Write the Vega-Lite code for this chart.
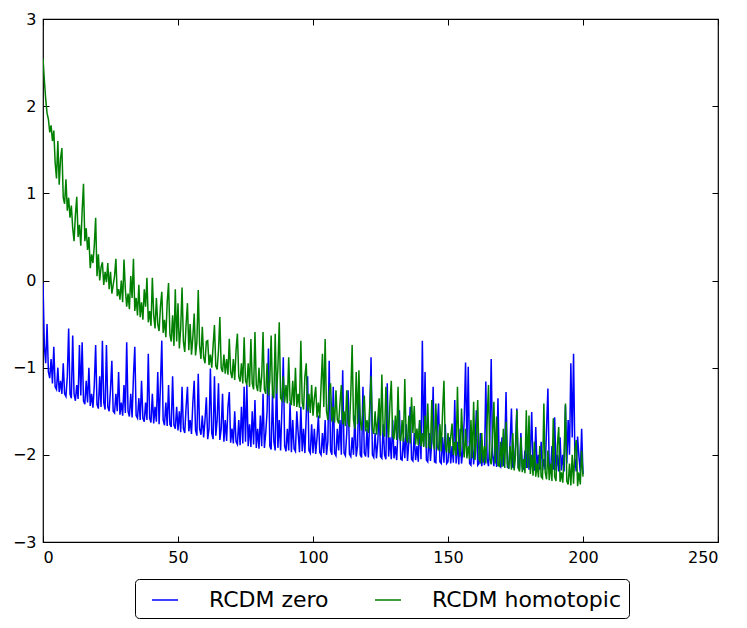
{
  "$schema": "https://vega.github.io/schema/vega-lite/v6.json",
  "width": 675,
  "height": 523,
  "autosize": "none",
  "padding": {"left": 43, "top": 19, "right": 29, "bottom": 86},
  "data": {
    "values": [
      {"x":0,"zero":-0.03,"homotopic":2.55},{"x":0.5,"zero":-0.75,"homotopic":2.3},{"x":1,"zero":-0.95,"homotopic":2.08},{"x":1.5,"zero":-0.5,"homotopic":1.92},
      {"x":2,"zero":-1.05,"homotopic":1.85},{"x":2.5,"zero":-1.12,"homotopic":1.7},{"x":3,"zero":-0.9,"homotopic":1.78},{"x":3.5,"zero":-1.18,"homotopic":1.6},
      {"x":4,"zero":-0.76,"homotopic":1.72},{"x":4.5,"zero":-1.22,"homotopic":1.35},{"x":5,"zero":-1.25,"homotopic":1.17},{"x":5.5,"zero":-1.0,"homotopic":1.6},
      {"x":6,"zero":-1.28,"homotopic":1.1},{"x":6.5,"zero":-1.15,"homotopic":1.4},{"x":7,"zero":-1.3,"homotopic":1.52},{"x":7.5,"zero":-0.95,"homotopic":0.95},
      {"x":8,"zero":-1.3,"homotopic":0.88},{"x":8.5,"zero":-1.33,"homotopic":1.16},{"x":9,"zero":-1.1,"homotopic":0.8},{"x":9.5,"zero":-0.55,"homotopic":0.95},
      {"x":10,"zero":-1.3,"homotopic":0.72},{"x":10.5,"zero":-1.35,"homotopic":0.86},{"x":11,"zero":-0.63,"homotopic":0.6},{"x":11.5,"zero":-1.3,"homotopic":0.45},
      {"x":12,"zero":-1.38,"homotopic":0.75},{"x":12.5,"zero":-1.2,"homotopic":0.96},{"x":13,"zero":-1.36,"homotopic":0.5},{"x":13.5,"zero":-0.74,"homotopic":0.64},
      {"x":14,"zero":-1.32,"homotopic":0.4},{"x":14.5,"zero":-0.71,"homotopic":0.8},{"x":15,"zero":-1.38,"homotopic":1.11},{"x":15.5,"zero":-1.42,"homotopic":0.45},
      {"x":16,"zero":-1.15,"homotopic":0.6},{"x":16.5,"zero":-1.4,"homotopic":0.35},{"x":17,"zero":-1.0,"homotopic":0.5},{"x":17.5,"zero":-1.44,"homotopic":0.14},
      {"x":18,"zero":-1.3,"homotopic":0.3},{"x":18.5,"zero":-1.46,"homotopic":0.2},{"x":19,"zero":-1.2,"homotopic":0.4},{"x":19.5,"zero":-0.74,"homotopic":0.72},
      {"x":20,"zero":-1.42,"homotopic":0.05},{"x":20.5,"zero":-1.47,"homotopic":0.3},{"x":21,"zero":-1.1,"homotopic":0.0},{"x":21.5,"zero":-1.45,"homotopic":0.15},
      {"x":22,"zero":-0.69,"homotopic":0.21},{"x":22.5,"zero":-1.4,"homotopic":-0.05},{"x":23,"zero":-1.48,"homotopic":0.1},{"x":23.5,"zero":-0.74,"homotopic":-0.02},
      {"x":24,"zero":-1.45,"homotopic":0.2},{"x":24.5,"zero":-1.5,"homotopic":-0.1},{"x":25,"zero":-1.25,"homotopic":0.1},{"x":25.5,"zero":-0.92,"homotopic":-0.15},
      {"x":26,"zero":-1.5,"homotopic":-0.05},{"x":26.5,"zero":-1.52,"homotopic":0.05},{"x":27,"zero":-1.3,"homotopic":0.25},{"x":27.5,"zero":-1.5,"homotopic":-0.18},
      {"x":28,"zero":-1.05,"homotopic":-0.1},{"x":28.5,"zero":-1.54,"homotopic":-0.22},{"x":29,"zero":-1.4,"homotopic":0.0},{"x":29.5,"zero":-1.55,"homotopic":-0.25},
      {"x":30,"zero":-1.2,"homotopic":0.24},{"x":30.5,"zero":-1.52,"homotopic":-0.1},{"x":31,"zero":-0.71,"homotopic":-0.3},{"x":31.5,"zero":-1.5,"homotopic":-0.15},
      {"x":32,"zero":-1.56,"homotopic":-0.33},{"x":32.5,"zero":-1.3,"homotopic":0.05},{"x":33,"zero":-1.57,"homotopic":-0.2},{"x":33.5,"zero":-1.1,"homotopic":0.25},
      {"x":34,"zero":-0.76,"homotopic":-0.35},{"x":34.5,"zero":-1.55,"homotopic":-0.2},{"x":35,"zero":-1.58,"homotopic":-0.4},{"x":35.5,"zero":-1.35,"homotopic":-0.05},
      {"x":36,"zero":-1.6,"homotopic":-0.42},{"x":36.5,"zero":-1.15,"homotopic":-0.25},{"x":37,"zero":-1.58,"homotopic":-0.45},{"x":37.5,"zero":-1.62,"homotopic":-0.1},
      {"x":38,"zero":-1.4,"homotopic":-0.3},{"x":38.5,"zero":-1.6,"homotopic":0.03},{"x":39,"zero":-0.84,"homotopic":-0.48},{"x":39.5,"zero":-1.58,"homotopic":-0.35},
      {"x":40,"zero":-1.63,"homotopic":-0.52},{"x":40.5,"zero":-1.3,"homotopic":0.03},{"x":41,"zero":-1.64,"homotopic":-0.4},{"x":41.5,"zero":-1.45,"homotopic":-0.55},
      {"x":42,"zero":-1.62,"homotopic":-0.2},{"x":42.5,"zero":-1.05,"homotopic":-0.5},{"x":43,"zero":-1.65,"homotopic":-0.58},{"x":43.5,"zero":-1.2,"homotopic":-0.3},
      {"x":44,"zero":-0.69,"homotopic":-0.13},{"x":44.5,"zero":-1.6,"homotopic":-0.6},{"x":45,"zero":-1.66,"homotopic":-0.45},{"x":45.5,"zero":-1.4,"homotopic":-0.65},
      {"x":46,"zero":-1.67,"homotopic":-0.25},{"x":46.5,"zero":-1.2,"homotopic":-0.03},{"x":47,"zero":-1.65,"homotopic":-0.62},{"x":47.5,"zero":-1.68,"homotopic":-0.7},
      {"x":48,"zero":-1.1,"homotopic":-0.4},{"x":48.5,"zero":-1.66,"homotopic":-0.75},{"x":49,"zero":-1.7,"homotopic":-0.1},{"x":49.5,"zero":-1.45,"homotopic":-0.7},
      {"x":50,"zero":-1.72,"homotopic":-0.26},{"x":50.5,"zero":-1.5,"homotopic":-0.78},{"x":51,"zero":-1.74,"homotopic":-0.55},{"x":51.5,"zero":-1.22,"homotopic":-0.08},
      {"x":52,"zero":-1.7,"homotopic":-0.7},{"x":52.5,"zero":-1.75,"homotopic":-0.82},{"x":53,"zero":-1.45,"homotopic":-0.5},{"x":53.5,"zero":-1.22,"homotopic":-0.26},
      {"x":54,"zero":-1.73,"homotopic":-0.8},{"x":54.5,"zero":-1.6,"homotopic":-0.5},{"x":55,"zero":-1.76,"homotopic":-0.85},{"x":55.5,"zero":-1.4,"homotopic":-0.65},
      {"x":56,"zero":-1.15,"homotopic":-0.38},{"x":56.5,"zero":-1.72,"homotopic":-0.86},{"x":57,"zero":-1.78,"homotopic":-0.7},{"x":57.5,"zero":-1.07,"homotopic":-0.11},
      {"x":58,"zero":-1.7,"homotopic":-0.75},{"x":58.5,"zero":-1.77,"homotopic":-0.9},{"x":59,"zero":-1.55,"homotopic":-0.53},{"x":59.5,"zero":-1.8,"homotopic":-0.88},
      {"x":60,"zero":-1.6,"homotopic":-0.95},{"x":60.5,"zero":-1.34,"homotopic":-0.7},{"x":61,"zero":-1.82,"homotopic":-0.69},{"x":61.5,"zero":-1.7,"homotopic":-0.97},
      {"x":62,"zero":-1.01,"homotopic":-0.85},{"x":62.5,"zero":-1.75,"homotopic":-1.0},{"x":63,"zero":-1.82,"homotopic":-0.75},{"x":63.5,"zero":-1.1,"homotopic":-0.51},
      {"x":64,"zero":-1.78,"homotopic":-0.98},{"x":64.5,"zero":-1.6,"homotopic":-1.02},{"x":65,"zero":-1.18,"homotopic":-0.8},{"x":65.5,"zero":-1.83,"homotopic":-0.42},
      {"x":66,"zero":-1.7,"homotopic":-1.0},{"x":66.5,"zero":-1.3,"homotopic":-1.05},{"x":67,"zero":-1.85,"homotopic":-0.85},{"x":67.5,"zero":-1.6,"homotopic":-1.07},
      {"x":68,"zero":-1.84,"homotopic":-0.9},{"x":68.5,"zero":-1.45,"homotopic":-1.08},{"x":69,"zero":-1.28,"homotopic":-0.67},{"x":69.5,"zero":-1.86,"homotopic":-1.05},
      {"x":70,"zero":-1.7,"homotopic":-1.12},{"x":70.5,"zero":-1.87,"homotopic":-0.9},{"x":71,"zero":-1.5,"homotopic":-1.14},{"x":71.5,"zero":-1.85,"homotopic":-0.8},
      {"x":72,"zero":-1.88,"homotopic":-0.61},{"x":72.5,"zero":-1.6,"homotopic":-1.1},{"x":73,"zero":-1.89,"homotopic":-1.16},{"x":73.5,"zero":-1.45,"homotopic":-0.95},
      {"x":74,"zero":-1.87,"homotopic":-1.18},{"x":74.5,"zero":-1.22,"homotopic":-0.65},{"x":75,"zero":-1.85,"homotopic":-1.15},{"x":75.5,"zero":-1.2,"homotopic":-1.2},
      {"x":76,"zero":-1.9,"homotopic":-0.95},{"x":76.5,"zero":-1.65,"homotopic":-1.22},{"x":77,"zero":-1.91,"homotopic":-0.67},{"x":77.5,"zero":-1.5,"homotopic":-1.18},
      {"x":78,"zero":-1.88,"homotopic":-1.25},{"x":78.5,"zero":-1.37,"homotopic":-0.59},{"x":79,"zero":-1.92,"homotopic":-1.2},{"x":79.5,"zero":-1.7,"homotopic":-1.27},
      {"x":80,"zero":-1.93,"homotopic":-1.0},{"x":80.5,"zero":-1.55,"homotopic":-1.28},{"x":81,"zero":-1.9,"homotopic":-1.1},{"x":81.5,"zero":-1.3,"homotopic":-0.59},
      {"x":82,"zero":-1.92,"homotopic":-1.25},{"x":82.5,"zero":-1.75,"homotopic":-1.3},{"x":83,"zero":-1.5,"homotopic":-0.95},{"x":83.5,"zero":-0.78,"homotopic":-1.32},
      {"x":84,"zero":-1.9,"homotopic":-1.15},{"x":84.5,"zero":-1.94,"homotopic":-0.63},{"x":85,"zero":-1.3,"homotopic":-1.3},{"x":85.5,"zero":-1.85,"homotopic":-1.35},
      {"x":86,"zero":-1.95,"homotopic":-0.61},{"x":86.5,"zero":-1.07,"homotopic":-1.3},{"x":87,"zero":-1.92,"homotopic":-1.0},{"x":87.5,"zero":-1.6,"homotopic":-0.48},
      {"x":88,"zero":-1.95,"homotopic":-1.35},{"x":88.5,"zero":-1.45,"homotopic":-1.38},{"x":89,"zero":-0.88,"homotopic":-1.1},{"x":89.5,"zero":-1.9,"homotopic":-1.4},
      {"x":90,"zero":-1.96,"homotopic":-1.2},{"x":90.5,"zero":-1.7,"homotopic":-1.41},{"x":91,"zero":-1.95,"homotopic":-0.88},{"x":91.5,"zero":-1.4,"homotopic":-1.38},
      {"x":92,"zero":-1.97,"homotopic":-1.43},{"x":92.5,"zero":-1.6,"homotopic":-1.15},{"x":93,"zero":-1.93,"homotopic":-1.44},{"x":93.5,"zero":-1.96,"homotopic":-1.0},
      {"x":94,"zero":-1.5,"homotopic":-1.45},{"x":94.5,"zero":-1.75,"homotopic":-1.3},{"x":95,"zero":-1.97,"homotopic":-1.46},{"x":95.5,"zero":-1.45,"homotopic":-0.69},
      {"x":96,"zero":-1.96,"homotopic":-1.4},{"x":96.5,"zero":-1.7,"homotopic":-1.48},{"x":97,"zero":-1.98,"homotopic":-1.1},{"x":97.5,"zero":-1.55,"homotopic":-0.95},
      {"x":98,"zero":-1.1,"homotopic":-1.5},{"x":98.5,"zero":-1.95,"homotopic":-1.3},{"x":99,"zero":-1.98,"homotopic":-1.52},{"x":99.5,"zero":-1.65,"homotopic":-1.2},
      {"x":100,"zero":-1.98,"homotopic":-1.55},{"x":100.5,"zero":-1.7,"homotopic":-1.35},{"x":101,"zero":-1.99,"homotopic":-1.22},{"x":101.5,"zero":-1.8,"homotopic":-1.57},
      {"x":102,"zero":-1.55,"homotopic":-1.4},{"x":102.5,"zero":-1.97,"homotopic":-1.58},{"x":103,"zero":-2.0,"homotopic":-1.2},{"x":103.5,"zero":-1.75,"homotopic":-0.84},
      {"x":104,"zero":-1.98,"homotopic":-1.45},{"x":104.5,"zero":-1.6,"homotopic":-0.67},{"x":105,"zero":-2.0,"homotopic":-1.5},{"x":105.5,"zero":-1.85,"homotopic":-1.6},
      {"x":106,"zero":-0.92,"homotopic":-1.3},{"x":106.5,"zero":-1.95,"homotopic":-1.18},{"x":107,"zero":-2.0,"homotopic":-1.62},{"x":107.5,"zero":-1.22,"homotopic":-1.45},
      {"x":108,"zero":-1.98,"homotopic":-1.63},{"x":108.5,"zero":-2.01,"homotopic":-1.26},{"x":109,"zero":-1.7,"homotopic":-1.6},{"x":109.5,"zero":-1.95,"homotopic":-1.64},
      {"x":110,"zero":-1.6,"homotopic":-1.4},{"x":110.5,"zero":-2.0,"homotopic":-1.2},{"x":111,"zero":-1.03,"homotopic":-1.65},{"x":111.5,"zero":-1.98,"homotopic":-1.5},
      {"x":112,"zero":-2.01,"homotopic":-1.67},{"x":112.5,"zero":-1.75,"homotopic":-1.26},{"x":113,"zero":-1.26,"homotopic":-1.62},{"x":113.5,"zero":-1.99,"homotopic":-1.68},
      {"x":114,"zero":-2.02,"homotopic":-1.3},{"x":114.5,"zero":-1.8,"homotopic":-0.74},{"x":115,"zero":-2.0,"homotopic":-1.6},{"x":115.5,"zero":-1.55,"homotopic":-1.7},
      {"x":116,"zero":-2.02,"homotopic":-1.05},{"x":116.5,"zero":-1.9,"homotopic":-1.65},{"x":117,"zero":-1.2,"homotopic":-1.03},{"x":117.5,"zero":-2.0,"homotopic":-1.6},
      {"x":118,"zero":-2.03,"homotopic":-1.72},{"x":118.5,"zero":-1.22,"homotopic":-1.5},{"x":119,"zero":-1.98,"homotopic":-1.32},{"x":119.5,"zero":-2.02,"homotopic":-1.73},
      {"x":120,"zero":-1.7,"homotopic":-1.6},{"x":120.5,"zero":-2.03,"homotopic":-1.75},{"x":121,"zero":-1.6,"homotopic":-1.45},{"x":121.5,"zero":-0.88,"homotopic":-1.1},
      {"x":122,"zero":-2.0,"homotopic":-1.7},{"x":122.5,"zero":-2.03,"homotopic":-1.76},{"x":123,"zero":-1.75,"homotopic":-1.5},{"x":123.5,"zero":-2.04,"homotopic":-1.77},
      {"x":124,"zero":-1.85,"homotopic":-1.6},{"x":124.5,"zero":-1.45,"homotopic":-1.35},{"x":125,"zero":-2.02,"homotopic":-1.78},{"x":125.5,"zero":-2.04,"homotopic":-1.08},
      {"x":126,"zero":-1.65,"homotopic":-1.72},{"x":126.5,"zero":-2.0,"homotopic":-1.79},{"x":127,"zero":-2.05,"homotopic":-1.22},{"x":127.5,"zero":-1.18,"homotopic":-1.6},
      {"x":128,"zero":-2.02,"homotopic":-1.8},{"x":128.5,"zero":-1.8,"homotopic":-1.4},{"x":129,"zero":-2.05,"homotopic":-1.15},{"x":129.5,"zero":-1.6,"homotopic":-1.78},
      {"x":130,"zero":-2.04,"homotopic":-1.82},{"x":130.5,"zero":-1.9,"homotopic":-1.55},{"x":131,"zero":-2.06,"homotopic":-1.83},{"x":131.5,"zero":-1.7,"homotopic":-1.22},
      {"x":132,"zero":-1.49,"homotopic":-1.8},{"x":132.5,"zero":-2.05,"homotopic":-1.84},{"x":133,"zero":-2.06,"homotopic":-1.6},{"x":133.5,"zero":-1.8,"homotopic":-1.85},
      {"x":134,"zero":-2.04,"homotopic":-1.13},{"x":134.5,"zero":-1.65,"homotopic":-1.8},{"x":135,"zero":-2.07,"homotopic":-1.86},{"x":135.5,"zero":-1.85,"homotopic":-1.55},
      {"x":136,"zero":-1.45,"homotopic":-1.87},{"x":136.5,"zero":-2.05,"homotopic":-1.34},{"x":137,"zero":-2.07,"homotopic":-1.75},{"x":137.5,"zero":-1.75,"homotopic":-1.44},
      {"x":138,"zero":-2.06,"homotopic":-1.88},{"x":138.5,"zero":-1.9,"homotopic":-1.7},{"x":139,"zero":-2.08,"homotopic":-1.89},{"x":139.5,"zero":-1.6,"homotopic":-1.6},
      {"x":140,"zero":-2.05,"homotopic":-1.9},{"x":140.5,"zero":-0.69,"homotopic":-1.75},{"x":141,"zero":-1.9,"homotopic":-1.91},{"x":141.5,"zero":-1.05,"homotopic":-1.55},
      {"x":142,"zero":-2.06,"homotopic":-1.92},{"x":142.5,"zero":-2.08,"homotopic":-1.41},{"x":143,"zero":-1.75,"homotopic":-1.9},{"x":143.5,"zero":-2.07,"homotopic":-1.93},
      {"x":144,"zero":-1.85,"homotopic":-1.37},{"x":144.5,"zero":-1.22,"homotopic":-1.85},{"x":145,"zero":-2.08,"homotopic":-1.94},{"x":145.5,"zero":-2.09,"homotopic":-1.41},
      {"x":146,"zero":-1.7,"homotopic":-1.9},{"x":146.5,"zero":-1.41,"homotopic":-1.95},{"x":147,"zero":-2.08,"homotopic":-1.65},{"x":147.5,"zero":-2.1,"homotopic":-1.96},
      {"x":148,"zero":-1.8,"homotopic":-1.5},{"x":148.5,"zero":-2.09,"homotopic":-1.15},{"x":149,"zero":-1.65,"homotopic":-1.9},{"x":149.5,"zero":-2.1,"homotopic":-1.97},
      {"x":150,"zero":-2.08,"homotopic":-1.75},{"x":150.5,"zero":-1.8,"homotopic":-1.98},{"x":151,"zero":-2.1,"homotopic":-1.8},{"x":151.5,"zero":-1.9,"homotopic":-1.64},
      {"x":152,"zero":-2.09,"homotopic":-2.0},{"x":152.5,"zero":-1.37,"homotopic":-1.85},{"x":153,"zero":-2.1,"homotopic":-2.01},{"x":153.5,"zero":-1.85,"homotopic":-1.22},
      {"x":154,"zero":-2.11,"homotopic":-1.9},{"x":154.5,"zero":-1.7,"homotopic":-2.02},{"x":155,"zero":-2.1,"homotopic":-1.47},{"x":155.5,"zero":-1.95,"homotopic":-1.85},
      {"x":156,"zero":-1.6,"homotopic":-2.03},{"x":156.5,"zero":-0.94,"homotopic":-1.7},{"x":157,"zero":-1.9,"homotopic":-2.04},{"x":157.5,"zero":-0.99,"homotopic":-1.9},
      {"x":158,"zero":-2.1,"homotopic":-2.05},{"x":158.5,"zero":-2.12,"homotopic":-1.6},{"x":159,"zero":-1.8,"homotopic":-2.04},{"x":159.5,"zero":-2.11,"homotopic":-1.39},
      {"x":160,"zero":-1.9,"homotopic":-2.06},{"x":160.5,"zero":-1.49,"homotopic":-1.8},{"x":161,"zero":-2.12,"homotopic":-1.37},{"x":161.5,"zero":-2.1,"homotopic":-2.05},
      {"x":162,"zero":-1.75,"homotopic":-2.08},{"x":162.5,"zero":-2.13,"homotopic":-1.75},{"x":163,"zero":-1.95,"homotopic":-2.09},{"x":163.5,"zero":-2.12,"homotopic":-1.9},
      {"x":164,"zero":-1.16,"homotopic":-2.1},{"x":164.5,"zero":-2.05,"homotopic":-1.6},{"x":165,"zero":-2.13,"homotopic":-1.2},{"x":165.5,"zero":-1.8,"homotopic":-2.05},
      {"x":166,"zero":-0.9,"homotopic":-2.11},{"x":166.5,"zero":-2.0,"homotopic":-1.8},{"x":167,"zero":-2.13,"homotopic":-1.39},{"x":167.5,"zero":-1.85,"homotopic":-2.1},
      {"x":168,"zero":-2.14,"homotopic":-1.56},{"x":168.5,"zero":-1.35,"homotopic":-2.12},{"x":169,"zero":-2.12,"homotopic":-2.13},{"x":169.5,"zero":-2.14,"homotopic":-1.85},
      {"x":170,"zero":-1.8,"homotopic":-2.14},{"x":170.5,"zero":-2.13,"homotopic":-1.7},{"x":171,"zero":-1.95,"homotopic":-2.15},{"x":171.5,"zero":-1.28,"homotopic":-1.62},
      {"x":172,"zero":-2.14,"homotopic":-2.1},{"x":172.5,"zero":-2.15,"homotopic":-2.16},{"x":173,"zero":-1.85,"homotopic":-1.9},{"x":173.5,"zero":-1.47,"homotopic":-2.17},
      {"x":174,"zero":-2.14,"homotopic":-1.75},{"x":174.5,"zero":-2.15,"homotopic":-2.18},{"x":175,"zero":-1.9,"homotopic":-2.0},{"x":175.5,"zero":-1.47,"homotopic":-1.49},
      {"x":176,"zero":-2.15,"homotopic":-2.15},{"x":176.5,"zero":-2.16,"homotopic":-2.19},{"x":177,"zero":-1.75,"homotopic":-1.8},{"x":177.5,"zero":-2.14,"homotopic":-2.2},
      {"x":178,"zero":-2.16,"homotopic":-2.05},{"x":178.5,"zero":-1.95,"homotopic":-2.21},{"x":179,"zero":-2.15,"homotopic":-1.49},{"x":179.5,"zero":-1.8,"homotopic":-2.15},
      {"x":180,"zero":-2.17,"homotopic":-1.55},{"x":180.5,"zero":-2.0,"homotopic":-2.22},{"x":181,"zero":-1.51,"homotopic":-2.0},{"x":181.5,"zero":-2.16,"homotopic":-2.24},
      {"x":182,"zero":-2.17,"homotopic":-1.85},{"x":182.5,"zero":-1.68,"homotopic":-2.25},{"x":183,"zero":-2.16,"homotopic":-2.1},{"x":183.5,"zero":-2.0,"homotopic":-2.26},
      {"x":184,"zero":-2.17,"homotopic":-1.9},{"x":184.5,"zero":-1.85,"homotopic":-2.25},{"x":185,"zero":-2.18,"homotopic":-2.27},{"x":185.5,"zero":-2.05,"homotopic":-1.41},
      {"x":186,"zero":-2.17,"homotopic":-2.2},{"x":186.5,"zero":-1.7,"homotopic":-2.28},{"x":187,"zero":-1.24,"homotopic":-1.95},{"x":187.5,"zero":-2.15,"homotopic":-2.29},
      {"x":188,"zero":-2.18,"homotopic":-2.1},{"x":188.5,"zero":-1.9,"homotopic":-2.3},{"x":189,"zero":-2.17,"homotopic":-1.58},{"x":189.5,"zero":-1.57,"homotopic":-2.25},
      {"x":190,"zero":-2.18,"homotopic":-2.3},{"x":190.5,"zero":-2.0,"homotopic":-1.9},{"x":191,"zero":-2.19,"homotopic":-1.68},{"x":191.5,"zero":-1.8,"homotopic":-2.31},
      {"x":192,"zero":-2.18,"homotopic":-2.2},{"x":192.5,"zero":-2.0,"homotopic":-2.32},{"x":193,"zero":-2.19,"homotopic":-2.0},{"x":193.5,"zero":-1.43,"homotopic":-1.41},
      {"x":194,"zero":-2.1,"homotopic":-2.3},{"x":194.5,"zero":-1.6,"homotopic":-2.34},{"x":195,"zero":-2.0,"homotopic":-2.1},{"x":195.5,"zero":-0.95,"homotopic":-2.35},
      {"x":196,"zero":-1.8,"homotopic":-2.0},{"x":196.5,"zero":-0.84,"homotopic":-2.33},{"x":197,"zero":-2.05,"homotopic":-1.95},{"x":197.5,"zero":-2.19,"homotopic":-1.83},
      {"x":198,"zero":-1.79,"homotopic":-2.36},{"x":198.5,"zero":-2.02,"homotopic":-2.2},{"x":199,"zero":-2.2,"homotopic":-2.34},{"x":199.5,"zero":-1.7,"homotopic":-1.95},
      {"x":200,"zero":-2.22,"homotopic":-2.25}
    ]
  },
  "transform": [{"fold": ["zero", "homotopic"], "as": ["series", "value"]}],
  "layer": [
    {
      "mark": {"type": "line", "strokeWidth": 1.5, "clip": true},
      "encoding": {
        "x": {
          "field": "x", "type": "quantitative",
          "scale": {"domain": [0, 250], "nice": false},
          "axis": {"orient": "bottom", "values": [0, 50, 100, 150, 200, 250], "title": null}
        },
        "y": {
          "field": "value", "type": "quantitative",
          "scale": {"domain": [-3, 3], "nice": false},
          "axis": {"orient": "left", "values": [-3, -2, -1, 0, 1, 2, 3], "title": null}
        },
        "color": {
          "field": "series", "type": "nominal",
          "scale": {"domain": ["zero", "homotopic"], "range": ["#0000ff", "#008000"]},
          "legend": {
            "orient": "none", "legendX": 92, "legendY": 560,
            "direction": "horizontal", "title": null,
            "labelExpr": "'RCDM ' + datum.label",
            "strokeColor": "black", "fillColor": "white", "cornerRadius": 4,
            "padding": 7, "symbolOffset": 9,
            "labelFontSize": 22, "labelColor": "black", "labelLimit": 400,
            "symbolType": "stroke", "symbolSize": 680, "symbolStrokeWidth": 1.5,
            "labelOffset": 30, "columnPadding": 36
          }
        }
      }
    },
    {
      "mark": {"type": "line", "opacity": 0},
      "encoding": {
        "x": {"field": "x", "type": "quantitative", "axis": {"orient": "top", "values": [0, 50, 100, 150, 200, 250], "labels": false, "title": null}},
        "y": {"field": "value", "type": "quantitative", "axis": {"orient": "right", "values": [-3, -2, -1, 0, 1, 2, 3], "labels": false, "title": null}},
        "detail": {"field": "series"}
      }
    }
  ],
  "resolve": {"axis": {"x": "independent", "y": "independent"}},
  "config": {
    "font": "DejaVu Sans",
    "view": {"stroke": "black", "strokeWidth": 1.2},
    "axis": {
      "domain": false, "grid": false,
      "tickColor": "black", "tickSize": -6, "tickWidth": 1,
      "labelFontSize": 16, "labelColor": "black", "labelPadding": 13
    }
  }
}
